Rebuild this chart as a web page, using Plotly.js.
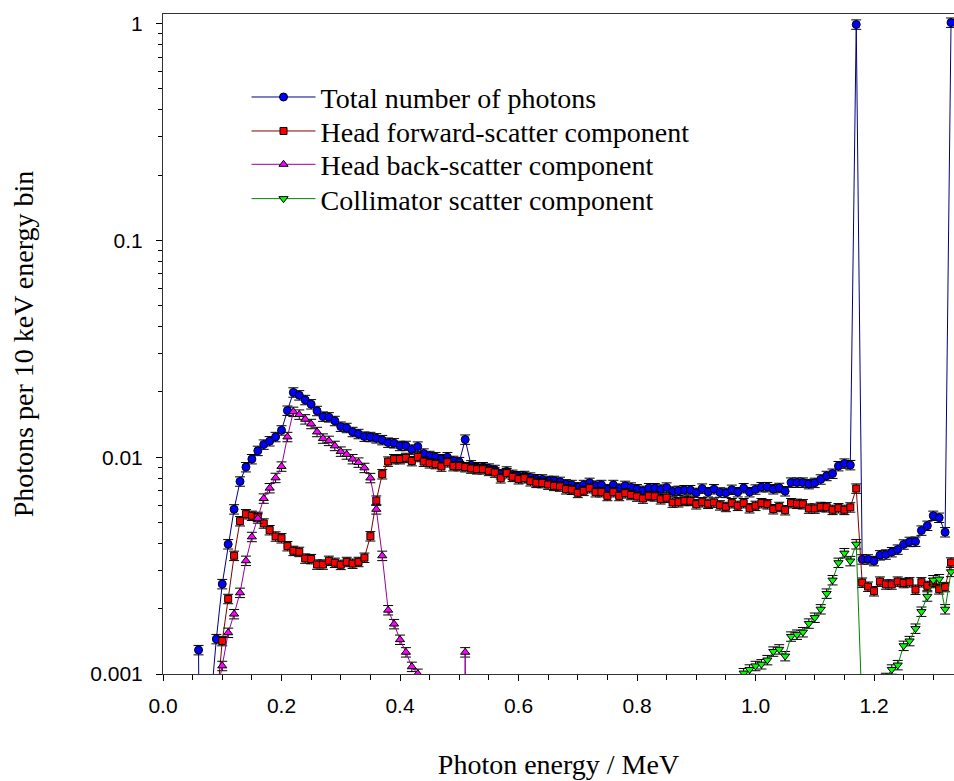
<!DOCTYPE html>
<html>
<head>
<meta charset="utf-8">
<script src="https://cdn.plot.ly/plotly-3.0.1.min.js"></script>
<style>
  html, body { margin: 0; padding: 0; background: #fff; }
  #chart { width: 954px; height: 781px; }
</style>
</head>
<body>
<div id="chart"></div>
<script>
// Photon energy (MeV), bin centres, 10 keV bins
const energy = [
  0.06, 0.07, 0.08, 0.09,
  0.10, 0.11, 0.12, 0.13, 0.14, 0.15, 0.16, 0.17, 0.18, 0.19,
  0.20, 0.21, 0.22, 0.23, 0.24, 0.25, 0.26, 0.27, 0.28, 0.29,
  0.30, 0.31, 0.32, 0.33, 0.34, 0.35, 0.36, 0.37, 0.38, 0.39,
  0.40, 0.41, 0.42, 0.43, 0.44, 0.45, 0.46, 0.47, 0.48, 0.49,
  0.50, 0.51, 0.52, 0.53, 0.54, 0.55, 0.56, 0.57, 0.58, 0.59,
  0.60, 0.61, 0.62, 0.63, 0.64, 0.65, 0.66, 0.67, 0.68, 0.69,
  0.70, 0.71, 0.72, 0.73, 0.74, 0.75, 0.76, 0.77, 0.78, 0.79,
  0.80, 0.81, 0.82, 0.83, 0.84, 0.85, 0.86, 0.87, 0.88, 0.89,
  0.90, 0.91, 0.92, 0.93, 0.94, 0.95, 0.96, 0.97, 0.98, 0.99,
  1.00, 1.01, 1.02, 1.03, 1.04, 1.05, 1.06, 1.07, 1.08, 1.09,
  1.10, 1.11, 1.12, 1.13, 1.14, 1.15, 1.16, 1.17, 1.18, 1.19,
  1.20, 1.21, 1.22, 1.23, 1.24, 1.25, 1.26, 1.27, 1.28, 1.29,
  1.30, 1.31, 1.32, 1.33
];

// Total number of photons
const total = [
  0.00129, 1e-7, 0.0007, 0.00145,
  0.0026, 0.00397, 0.00575, 0.00773, 0.0090, 0.0098, 0.0107, 0.01144, 0.01185, 0.0124,
  0.0133, 0.0164, 0.0199, 0.0193, 0.01837, 0.01755, 0.01635, 0.0154, 0.01528, 0.0147,
  0.01384, 0.01365, 0.01308, 0.0128, 0.01245, 0.0124, 0.01223, 0.0120, 0.01168, 0.0116,
  0.01128, 0.01128, 0.01085, 0.0112, 0.0104, 0.01014, 0.0100, 0.0098, 0.0100, 0.00962,
  0.0095, 0.01206, 0.00918, 0.0090, 0.0090, 0.00887, 0.00874, 0.00835, 0.0086, 0.0083,
  0.00818, 0.0082, 0.00806, 0.00792, 0.0079, 0.00778, 0.00778, 0.0077, 0.0075, 0.00745,
  0.00727, 0.00745, 0.00762, 0.0074, 0.00745, 0.00712, 0.00745, 0.00717, 0.00738, 0.00725,
  0.00712, 0.0070, 0.0072, 0.0072, 0.0071, 0.00725, 0.00695, 0.0070, 0.00705, 0.00705,
  0.00685, 0.00717, 0.0069, 0.00712, 0.00688, 0.00685, 0.00708, 0.0069, 0.0072, 0.0069,
  0.0071, 0.00728, 0.00728, 0.00712, 0.00722, 0.00697, 0.00764, 0.00764, 0.00764, 0.00752,
  0.00762, 0.0079, 0.0082, 0.0084, 0.0091, 0.00935, 0.0092, 0.99, 0.00338, 0.00338,
  0.00332, 0.00353, 0.00356, 0.00365, 0.00375, 0.00396, 0.00407, 0.00408, 0.00459, 0.00483,
  0.00537, 0.00526, 0.00451, 1.01
];

// Head forward-scatter component
const forward = [
  null, null, null, 0.0007,
  0.00142, 0.00222, 0.00351, 0.00507, 0.00546, 0.00537, 0.00531, 0.00495, 0.00461, 0.00431,
  0.00423, 0.00389, 0.0037, 0.00366, 0.00341, 0.00339, 0.0032, 0.0032, 0.00333, 0.00326,
  0.00319, 0.00329, 0.00323, 0.00329, 0.00344, 0.00432, 0.00631, 0.00835, 0.00955, 0.0098,
  0.0098, 0.00993, 0.0096, 0.01003, 0.00954, 0.00938, 0.0093, 0.00906, 0.00948, 0.0091,
  0.0091, 0.0090, 0.00887, 0.0088, 0.0088, 0.00865, 0.0085, 0.0080, 0.00844, 0.00812,
  0.00792, 0.0080, 0.00775, 0.00762, 0.0076, 0.00748, 0.00738, 0.00733, 0.00712, 0.00708,
  0.00685, 0.0070, 0.0072, 0.0069, 0.0069, 0.00663, 0.0069, 0.00663, 0.00682, 0.0067,
  0.00659, 0.00645, 0.00663, 0.0066, 0.0064, 0.0065, 0.00618, 0.0062, 0.00629, 0.00629,
  0.00607, 0.0062, 0.0061, 0.00618, 0.006, 0.0059, 0.00614, 0.00597, 0.00614, 0.00582,
  0.00597, 0.00614, 0.00607, 0.00576, 0.0059, 0.0057, 0.00614, 0.0061, 0.00607, 0.0058,
  0.0058, 0.0059, 0.00588, 0.00572, 0.00582, 0.00572, 0.00587, 0.00717, 0.00264, 0.00253,
  0.00241, 0.00267, 0.00259, 0.00259, 0.00267, 0.00263, 0.00265, 0.00245, 0.00265, 0.00255,
  0.00263, 0.00246, 0.00252, 0.00327
];

// Head back-scatter component
const backscatter = [
  null, null, null, 0.0008,
  0.00109, 0.00155, 0.00189, 0.00237, 0.00333, 0.00429, 0.00522, 0.00645, 0.0072, 0.00803,
  0.00906, 0.0124, 0.0162, 0.01573, 0.01496, 0.01424, 0.01308, 0.0122, 0.0119, 0.01128,
  0.01062, 0.0103, 0.0098, 0.00945, 0.00893, 0.00802, 0.00575, 0.00351, 0.00197, 0.0017,
  0.00144, 0.00126, 0.00108, 0.001003, 1e-7, 1e-7, 1e-7, 1e-7, 1e-7, 1e-7,
  1e-7, 0.00126, 1e-7, null, null, null, null, null, null, null,
  null, null, null, null, null, null, null, null, null, null,
  null, null, null, null, null, null, null, null, null, null,
  null, null, null, null, null, null, null, null, null, null,
  null, null, null, null, null, null, null, null, null, null,
  null, null, null, null, null, null, null, null, null, null,
  null, null, null, null, null, null, null, null, null, null,
  null, null, null, null, null, null, null, null, null, null,
  null, null, null, null
];

// Collimator scatter component
const collimator = [
  null, null, null, null,
  null, null, null, null, null, null, null, null, null, null,
  null, null, null, null, null, null, null, null, null, null,
  null, null, null, null, null, null, null, null, null, null,
  null, null, null, null, null, null, null, null, null, null,
  null, null, null, null, null, null, null, null, null, null,
  null, null, null, null, null, null, null, null, null, null,
  null, null, null, null, null, null, null, null, null, null,
  null, null, null, null, null, null, null, null, null, null,
  null, null, null, null, null, null, null, 0.0008, 0.00101, 0.00105,
  0.00109, 0.00111, 0.00116, 0.00127, 0.0013, 0.00121, 0.00149, 0.00152, 0.00156, 0.00171,
  0.00182, 0.00199, 0.00235, 0.00271, 0.00326, 0.00361, 0.00332, 0.00397, 0.00066, 0.0005,
  0.0005, 0.0005, 0.00096, 0.00105, 0.0011, 0.00135, 0.00142, 0.00162, 0.00194, 0.00228,
  0.00271, 0.00274, 0.00199, 0.00296
];

const seriesNames = [
  'Total number of photons',
  'Head forward-scatter component',
  'Head back-scatter component',
  'Collimator scatter component'
];

const yTickVals = [0.001, 0.01, 0.1, 1];
const yTickText = ['0.001', '0.01', '0.1', '1'];

// minor log ticks 2..9 in each decade
const yMinor = [];
[0.001, 0.01, 0.1].forEach(function (d) {
  for (let k = 2; k <= 9; k++) yMinor.push(+(k * d).toPrecision(3));
});

const errStyle = { type: 'percent', value: 5, color: '#000000', thickness: 1, width: 5 };

function mk(y, name, lineColor, fill, symbol, size, legendId) {
  return {
    type: 'scatter', mode: 'lines+markers',
    x: energy, y: y, name: name,
    line: { color: lineColor, width: 1 },
    marker: { symbol: symbol, size: size, color: fill, line: { color: '#000000', width: 1 } },
    error_y: errStyle,
    cliponaxis: true,
    connectgaps: false,
    legend: legendId
  };
}

const traces = [
  mk(total, seriesNames[0], '#000080', '#0000ff', 'circle', 8, 'legend'),
  mk(forward, seriesNames[1], '#800000', '#ff0000', 'square', 7, 'legend2'),
  mk(backscatter, seriesNames[2], '#990099', '#ff00ff', 'triangle-up', 8, 'legend3'),
  mk(collimator, seriesNames[3], '#008000', '#00ff00', 'triangle-down', 8, 'legend4')
];

const legFont = { family: 'Liberation Serif, Times New Roman, serif', size: 28, color: '#000000' };
function leg(y) {
  return {
    x: 0.1056, y: y, xanchor: 'left', yanchor: 'middle',
    bgcolor: 'rgba(0,0,0,0)', borderwidth: 0,
    font: legFont, itemwidth: 64
  };
}

const tickFont = { family: 'Liberation Sans, Arial, sans-serif', size: 21, color: '#000000' };
const titleFont = { family: 'Liberation Serif, Times New Roman, serif', size: 28, color: '#000000' };

const layout = {
  width: 954, height: 781,
  margin: { l: 163, r: 0, t: 14, b: 107, pad: 0 },
  paper_bgcolor: '#ffffff', plot_bgcolor: '#ffffff',
  font: { family: 'Liberation Sans, Arial, sans-serif', color: '#000000' },
  showlegend: true,
  legend: leg(0.8738),
  legend2: leg(0.8223),
  legend3: leg(0.7718),
  legend4: leg(0.7198),
  xaxis: {
    range: [0, 1.335],
    tick0: 0, dtick: 0.2, tickformat: '.1f',
    ticks: 'outside', ticklen: 6, tickwidth: 1, tickcolor: '#000000',
    ticklabelstandoff: 7,
    showline: true, linecolor: '#333333', linewidth: 1, mirror: true,
    showgrid: false, zeroline: false,
    tickfont: tickFont,
    minor: { dtick: 0.05, ticks: 'outside', ticklen: 5, tickwidth: 1, tickcolor: '#000000', showgrid: false },
    title: { text: 'Photon energy / MeV', font: titleFont, standoff: 38 }
  },
  yaxis: {
    type: 'log', range: [-3, 0.044],
    tickmode: 'array', tickvals: yTickVals, ticktext: yTickText,
    ticks: 'outside', ticklen: 6, tickwidth: 1, tickcolor: '#000000',
    ticklabelstandoff: 9,
    showline: true, linecolor: '#333333', linewidth: 1, mirror: false,
    showgrid: false, zeroline: false,
    tickfont: tickFont,
    minor: { tickmode: 'array', tickvals: yMinor, ticks: 'outside', ticklen: 4, tickwidth: 1, tickcolor: '#000000', showgrid: false },
    title: { text: 'Photons per 10 keV energy bin', font: titleFont, standoff: 48 }
  }
};

Plotly.newPlot('chart', traces, layout, { displayModeBar: false, staticPlot: true });
</script>
</body>
</html>
